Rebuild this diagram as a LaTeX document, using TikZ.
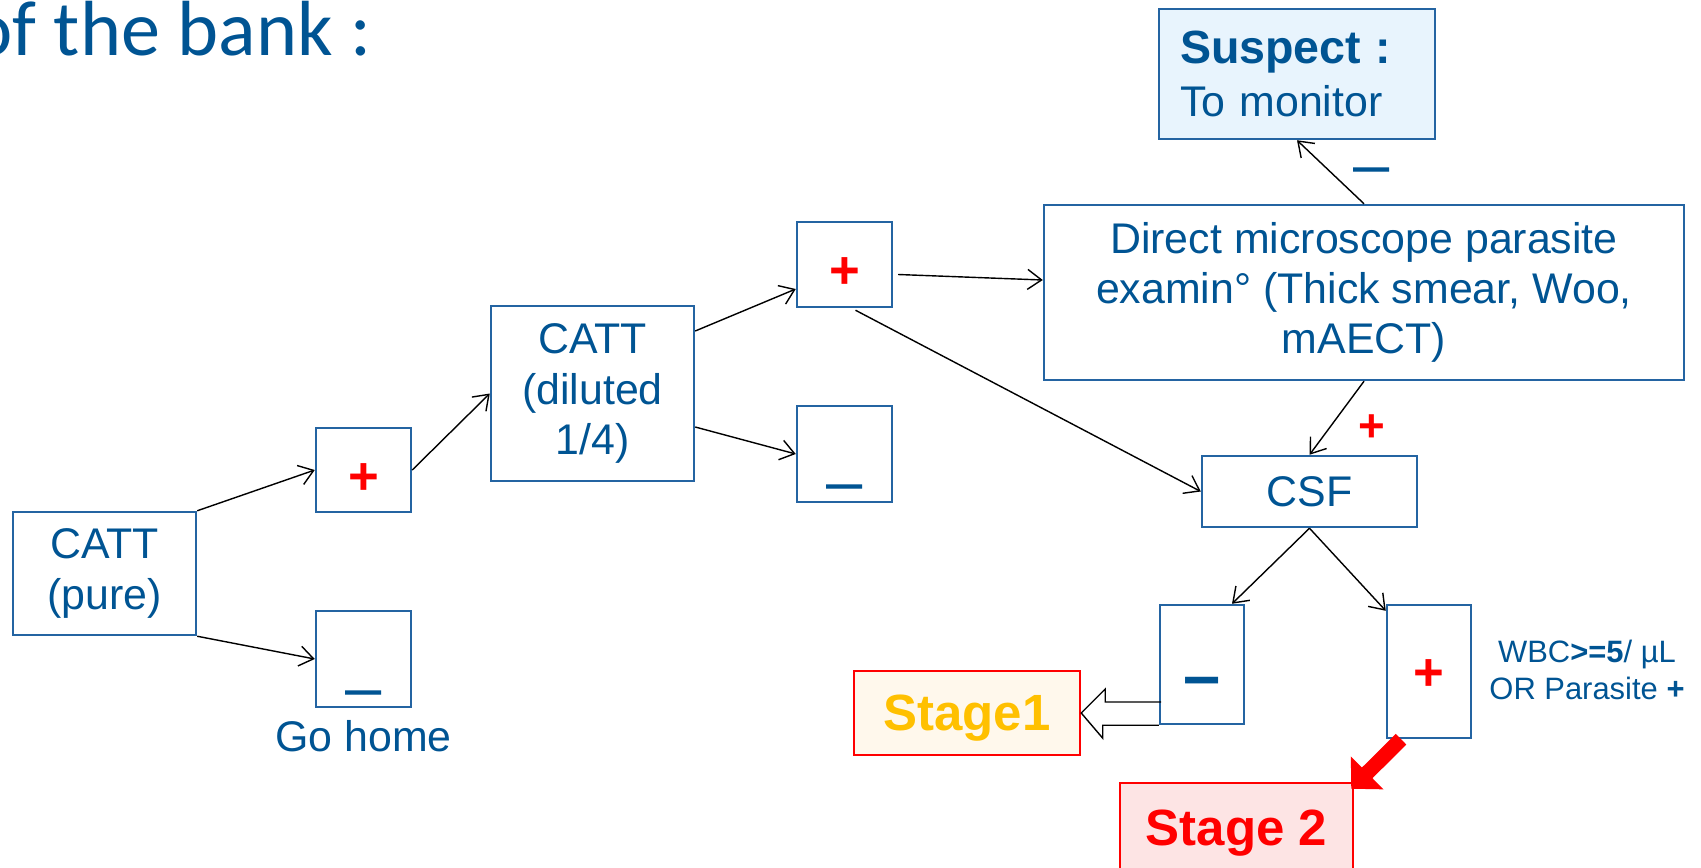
\documentclass[tikz,border=0pt]{standalone}
\usepackage{fontspec}
\setmainfont{Liberation Sans}
\newfontfamily\titlefont{Carlito}
\usepackage{xcolor}
\usetikzlibrary{positioning}
\usetikzlibrary{arrows.meta}
\definecolor{txtblue}{RGB}{0,84,147}
\definecolor{boxblue}{RGB}{36,100,162}
\definecolor{suspectfill}{RGB}{232,244,253}
\definecolor{stageyellow}{RGB}{255,192,0}
\definecolor{stageonefill}{RGB}{255,248,236}
\definecolor{stagetwofill}{RGB}{253,228,228}
\tikzset{testbox/.style={draw=boxblue,line width=1.4pt,align=center,inner sep=0pt},
  signbox/.style={testbox,minimum width=1.9cm},
  stagebox/.style={draw=red,line width=1.4pt,inner sep=0pt,text depth=0pt,font=\bfseries\fontsize{29}{32}\selectfont},
  link/.style={-{Straight Barb[length=2.8mm,width=4mm]},line width=0.8pt}}
% signs inside the result boxes, moved down by #2
\newcommand{\minusmark}[2][37]{{\fontsize{#1}{#1}\selectfont\smash{\raisebox{\dimexpr-#2-.28em\relax}{–}}}}
\newcommand{\plusmark}[2][30]{{\color{red}\bfseries\fontsize{#1}{#1}\selectfont\smash{\raisebox{\dimexpr-#2-.34em\relax}{+}}}}

\begin{document}
\begin{tikzpicture}[font=\fontsize{24.4}{28.5}\selectfont,text=txtblue]
\useasboundingbox (0,0) rectangle (34.02,-17.34);
% what is left of the slide title
\node[anchor=base east,inner sep=0pt,font=\titlefont\fontsize{44.5}{50}\selectfont] (title) at (7.44,-1.1) {of the bank :};
% first CATT and its two results
\node[testbox,minimum width=3.66cm,minimum height=2.46cm] (pure) at (2.09,-11.47) {CATT\\(pure)};
\node[signbox,minimum height=1.68cm] (pp1) at (7.27,-9.40) {\plusmark{0.14cm}};
\node[signbox,minimum height=1.92cm] (pm1) at (7.27,-13.18) {\minusmark{0.64cm}};
\node[below=0.12cm of pm1] (home) {Go home};
% diluted CATT
\node[testbox,minimum width=4.06cm,minimum height=3.5cm] (dil) at (11.85,-7.87) {CATT\\(diluted\\1/4)};
\node[signbox,minimum height=1.7cm] (pp2) at (16.89,-5.29) {\plusmark{0.13cm}};
\node[signbox,minimum height=1.92cm] (pm2) at (16.89,-9.08) {\minusmark{0.62cm}};
% parasite search
\node[testbox,minimum width=12.8cm,minimum height=3.5cm] (direct) at (27.28,-5.85) {Direct microscope parasite\\examin° (Thick smear, Woo,\\mAECT)};
\node[testbox,fill=suspectfill,align=left,text width=4.68cm,inner xsep=0.42cm,minimum height=2.6cm] (suspect) at (25.94,-1.48) {{\bfseries\fontsize{26.5}{30}\selectfont Suspect :}\\[1.5pt]To monitor};
\node (neg) at (27.44,-3.36) {\minusmark{0pt}};
\node[testbox,minimum width=4.3cm,minimum height=1.42cm] (csf) at (26.19,-9.83) {CSF};
\node (pos) at (27.44,-8.52) {\plusmark[26]{0pt}};
% CSF results
\node[signbox,minimum width=1.68cm,minimum height=2.38cm] (pm3) at (24.04,-13.29) {\bfseries\minusmark[38]{0.31cm}};
\node[signbox,minimum width=1.68cm,minimum height=2.66cm] (pp3) at (28.58,-13.43) {\plusmark{0.03cm}};
\node[align=center,font=\fontsize{17.6}{21.5}\selectfont] (wbc) at (31.74,-13.40) {WBC\textbf{>=5}/ µL\\OR Parasite \textbf{+}};
% stages
\node[stagebox,fill=stageonefill,text=stageyellow,minimum width=4.52cm,minimum height=1.68cm] (stage1) at (19.34,-14.26) {Stage1};
\node[stagebox,fill=stagetwofill,text=red,minimum width=4.66cm,minimum height=1.8cm] (stage2) at (24.73,-16.56) {Stage 2};
% links
\draw[link] (pure.north east) -- (pp1.west);
\draw[link] (pure.south east) -- (pm1.west);
\draw[link] (pp1.east) -- (dil.west);
\draw[link] ([yshift=1.25cm]dil.east) -- ([yshift=-0.49cm]pp2.west);
\draw[link] ([yshift=-0.67cm]dil.east) -- (pm2.west);
\draw[link] ([xshift=0.1cm,yshift=-0.2cm]pp2.east) -- ([yshift=0.25cm]direct.west);
\draw[link] ([xshift=0.22cm,yshift=-0.04cm]pp2.south) -- (csf.west);
\draw[link] (direct.north) -- (suspect.south);
\draw[link] (direct.south) -- (csf.north);
\draw[link] (csf.south) -- ([xshift=0.6cm]pm3.north);
\draw[link] (csf.south) -- ([yshift=-0.14cm]pp3.north west);
% hollow arrow to stage 1
\draw[line width=0.8pt] (pm3.south west) -- ++(-1.12,0) -- ++(0,-0.26) -- (stage1.east) -- ++(0.48,0.48) -- ++(0,-0.26) -- ++(1.12,0);
% red arrow to stage 2
\draw[red,line width=0.3cm,-{Triangle[length=0.45cm,width=0.9cm]}] ([xshift=-0.56cm]pp3.south) -- ([xshift=-0.06cm,yshift=-0.14cm]stage2.north east);
\end{tikzpicture}
\end{document}
